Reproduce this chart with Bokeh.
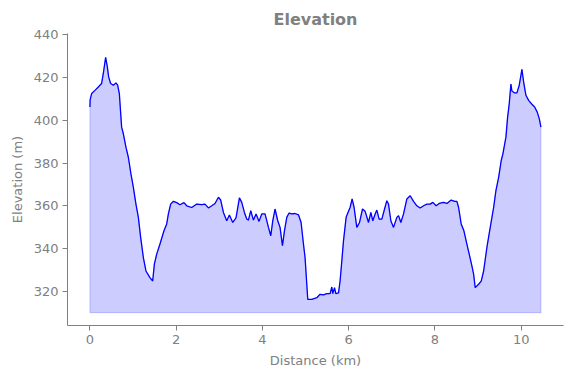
from bokeh.plotting import figure
from bokeh.embed import file_html
from bokeh.resources import INLINE
from bokeh.models import Range1d, FixedTicker

distance_km = [
    0.0, 0.005, 0.04, 0.116, 0.195, 0.27, 0.31, 0.364, 0.404, 0.434, 0.48, 0.543, 0.603, 0.643, 0.682,
    0.735, 0.775, 0.835, 0.891, 0.951, 1.007, 1.067, 1.123, 1.176, 1.239, 1.299, 1.392, 1.455, 1.494,
    1.548, 1.624, 1.717, 1.78, 1.819, 1.872, 1.935, 2.012, 2.088, 2.181, 2.244, 2.36, 2.476, 2.592,
    2.668, 2.747, 2.824, 2.9, 2.979, 3.032, 3.095, 3.172, 3.234, 3.311, 3.387, 3.466, 3.52, 3.582,
    3.636, 3.675, 3.729, 3.791, 3.852, 3.921, 3.984, 4.06, 4.139, 4.193, 4.239, 4.292, 4.355, 4.408,
    4.464, 4.51, 4.564, 4.617, 4.68, 4.756, 4.835, 4.896, 4.951, 4.988, 5.051, 5.144, 5.26, 5.336,
    5.415, 5.492, 5.568, 5.608, 5.631, 5.671, 5.701, 5.764, 5.8, 5.84, 5.879, 5.94, 5.995, 6.032,
    6.079, 6.125, 6.188, 6.251, 6.32, 6.381, 6.459, 6.513, 6.559, 6.613, 6.652, 6.705, 6.768, 6.831,
    6.884, 6.923, 6.977, 7.039, 7.116, 7.155, 7.209, 7.271, 7.348, 7.425, 7.503, 7.58, 7.657, 7.735,
    7.812, 7.889, 7.951, 8.028, 8.097, 8.199, 8.276, 8.376, 8.455, 8.508, 8.548, 8.608, 8.671, 8.74,
    8.794, 8.856, 8.896, 8.933, 9.012, 9.072, 9.128, 9.204, 9.281, 9.36, 9.413, 9.476, 9.536, 9.575,
    9.645, 9.684, 9.722, 9.761, 9.784, 9.847, 9.9, 9.954, 10.016, 10.056, 10.109, 10.172, 10.248,
    10.311, 10.371, 10.418, 10.457,
]
elevation_m = [
    406.2, 409.7, 412.5, 414.0, 415.6, 417.2, 421.9, 429.4, 425.0, 420.3, 417.2, 416.4, 417.5, 416.4, 412.5,
    396.8, 393.7, 387.4, 382.7, 374.9, 368.6, 360.8, 354.6, 345.2, 335.8, 329.5, 326.4, 324.8, 332.7,
    337.4, 342.1, 348.3, 351.5, 356.2, 360.8, 362.1, 361.5, 360.5, 361.5, 360.0, 359.2, 360.8, 360.5,
    360.8, 359.0, 360.0, 361.1, 364.0, 362.7, 356.9, 353.0, 355.7, 352.2, 354.3, 363.7, 361.6, 356.9,
    353.8, 353.3, 357.7, 353.3, 356.2, 352.7, 356.2, 356.2, 349.9, 346.0, 353.0, 358.5, 353.0, 349.9,
    341.3, 348.3, 354.6, 356.6, 356.2, 356.4, 355.8, 352.2, 342.1, 335.8, 316.2, 316.2, 317.0, 318.6,
    318.3, 318.9, 318.9, 322.0, 318.9, 321.7, 318.9, 319.3, 324.8, 334.2, 343.6, 354.6, 357.4, 359.2,
    363.2, 359.2, 349.9, 352.2, 358.5, 357.4, 352.2, 356.9, 353.0, 356.2, 358.0, 353.8, 353.8, 358.5,
    362.4, 360.8, 353.0, 349.9, 354.6, 355.4, 352.2, 356.2, 363.2, 364.7, 362.1, 360.0, 359.0, 360.0,
    360.8, 360.8, 361.6, 360.0, 361.1, 361.6, 361.1, 362.7, 362.1, 362.1, 359.2, 351.5, 348.3, 342.1,
    337.4, 331.9, 328.0, 321.7, 323.3, 324.8, 329.5, 340.5, 349.9, 359.2, 367.1, 373.3, 381.2, 384.3,
    392.1, 401.5, 407.8, 416.9, 413.7, 412.8, 412.8, 416.4, 423.8, 417.9, 411.7, 409.3, 407.5,
    406.2, 403.8, 400.8, 396.8,
]
BASE = 310
x_ticks = [0, 2, 4, 6, 8, 10]
y_ticks = [320, 340, 360, 380, 400, 420, 440]

GRAY = "#808080"
FONT = "DejaVu Sans"

p = figure(width=571, height=378, output_backend="svg", toolbar_location=None,
           title="Elevation",
           x_range=Range1d(-0.52, 10.98), y_range=Range1d(304.0, 440.6),
           min_border_left=67, min_border_right=8, min_border_top=33, min_border_bottom=53)

p.title.align = "center"
p.title.text_font = FONT
p.title.text_font_size = "16px"
p.title.text_font_style = "bold"
p.title.text_color = GRAY

poly_x = list(distance_km) + list(reversed(distance_km))
poly_y = list(elevation_m) + [BASE] * len(distance_km)
p.patch(poly_x, poly_y, fill_color="blue", fill_alpha=0.2, line_color="blue", line_alpha=0.2, line_width=1)
p.line(distance_km, elevation_m, line_color="blue", line_width=1.3)

p.xgrid.visible = False
p.ygrid.visible = False
p.outline_line_color = None
p.background_fill_color = "white"
p.border_fill_color = "white"

for ax, lbl, ticks in ((p.xaxis[0], "Distance (km)", x_ticks), (p.yaxis[0], "Elevation (m)", y_ticks)):
    ax.ticker = FixedTicker(ticks=ticks)
    ax.axis_label = lbl
    ax.axis_label_text_font = FONT
    ax.axis_label_text_font_size = "13px"
    ax.axis_label_text_font_style = "normal"
    ax.axis_label_text_color = GRAY
    ax.major_label_text_font = FONT
    ax.major_label_text_font_size = "13px"
    ax.major_label_text_color = GRAY
    ax.axis_line_color = GRAY
    ax.major_tick_line_color = GRAY
    ax.major_tick_out = 5
    ax.major_tick_in = 0
    ax.minor_tick_line_color = None
    ax.major_label_standoff = 4
    ax.axis_label_standoff = 6

open("out.html", "w").write(file_html(p, INLINE))
